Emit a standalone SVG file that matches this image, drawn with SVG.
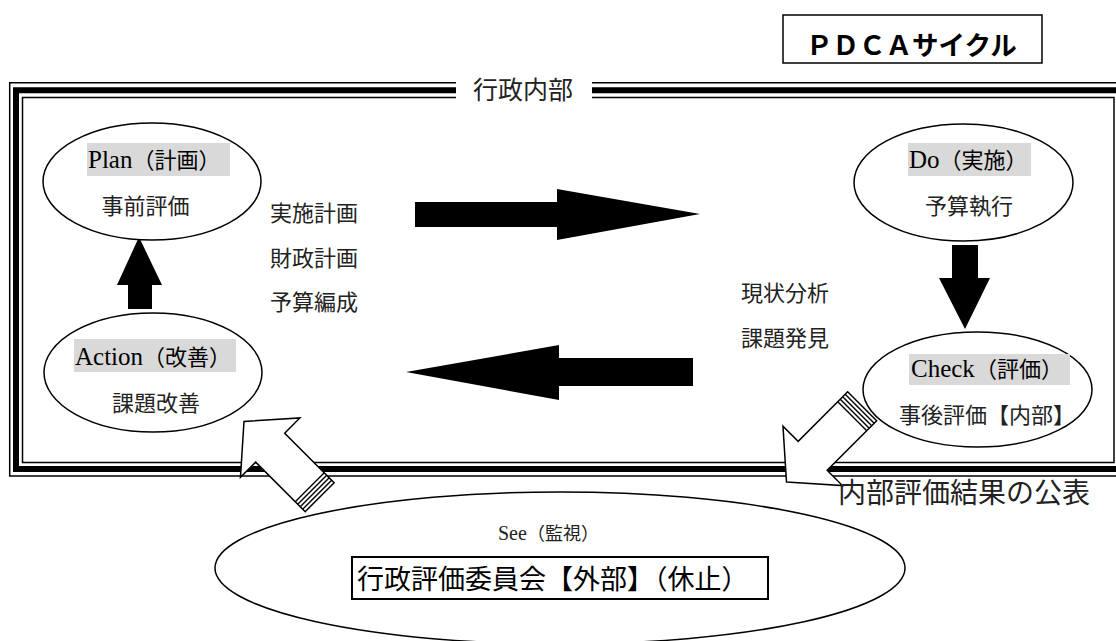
<svg xmlns="http://www.w3.org/2000/svg" width="1116" height="641" viewBox="0 0 1116 641">
<style>
.ln{fill:none;stroke:#000}
.el{fill:#fff;stroke:#000;stroke-width:1.5}
.lab{fill:#d9d9d9}
.lat{font-family:"Liberation Serif","Noto Sans CJK JP",serif;font-size:25px;fill:#000}
.cj{font-family:"Noto Sans CJK JP",sans-serif;font-size:22px;fill:#222}
.blk{fill:#000}
</style>
<defs>
<g id="hollow">
<path d="M0,0 L-37,-42 L-37,-20.5 L-107,-20.5 L-107,20.5 L-37,20.5 L-37,42 Z" fill="#fff" stroke="#000" stroke-width="1.5" stroke-linejoin="miter"/>
<path d="M-93,-20.5 V20.5 M-96.5,-20.5 V20.5 M-100,-20.5 V20.5 M-103.5,-20.5 V20.5" stroke="#000" stroke-width="1.4"/>
</g>
</defs>
<rect width="1116" height="641" fill="#fff"/>

<g id="frame">
<path class="ln" stroke-width="1.5" d="M592,82.7 H1130 V476 H9.7 V82.7 H456"/>
<path class="ln" stroke-width="6" d="M592,90.3 H1125 V469 H16 V90.3 H456"/>
<path class="ln" stroke-width="1.5" d="M592,97.5 H1114 V462.5 H22.5 V97.5 H456"/>
<text x="473" y="99" font-family="Noto Sans CJK JP,sans-serif" font-size="25" fill="#222">行政内部</text>
</g>

<g id="title">
<rect x="783" y="15" width="259" height="48" fill="#fff" stroke="#000" stroke-width="1.5"/>
<text x="806" y="55" font-family="Noto Sans CJK JP,sans-serif" font-size="26.5" font-weight="bold" fill="#000">ＰＤＣＡサイクル</text>
</g>

<g id="connectors">
<polygon class="blk" points="415,202 557,202 557,189 700,214 557,240 557,227 415,227"/>
<polygon class="blk" points="693,358 559,358 559,345 406,372 559,400 559,386 693,386"/>
<polygon class="blk" points="128,309 128,285 117,285 139,237 162,285 152,285 152,309"/>
<polygon class="blk" points="952,245 978,245 978,278 990,278 965,329 939,278 952,278"/>
</g>

<g id="plan">
<ellipse class="el" cx="152" cy="181.5" rx="109" ry="58.5"/>
<rect class="lab" x="87" y="143" width="143" height="33"/>
<text class="lat" x="88" y="168">Plan<tspan font-size="22">（計画）</tspan></text>
<text class="cj" x="145.5" y="214" text-anchor="middle">事前評価</text>
</g>

<g id="do">
<ellipse class="el" cx="963.5" cy="182.5" rx="109.5" ry="58.5"/>
<rect class="lab" x="908" y="143" width="123" height="33"/>
<text class="lat" x="909" y="168">Do<tspan font-size="22">（実施）</tspan></text>
<text class="cj" x="969" y="214" text-anchor="middle">予算執行</text>
</g>

<g id="check">
<ellipse class="el" cx="977.5" cy="389.5" rx="114.5" ry="57.5"/>
<rect class="lab" x="909" y="354" width="161" height="31"/>
<text class="lat" x="911" y="377">Check<tspan font-size="22">（評価）</tspan></text>
<text class="cj" x="899" y="423">事後評価【内部】</text>
</g>

<g id="action">
<ellipse class="el" cx="153" cy="372.5" rx="109" ry="59.5"/>
<rect class="lab" x="74" y="339" width="162" height="33"/>
<text class="lat" x="75" y="365">Action<tspan font-size="22">（改善）</tspan></text>
<text class="cj" x="156" y="411" text-anchor="middle">課題改善</text>
</g>

<g id="labels">
<text class="cj" x="270" y="221">実施計画</text>
<text class="cj" x="270" y="266">財政計画</text>
<text class="cj" x="270" y="310">予算編成</text>
<text class="cj" x="741" y="301">現状分析</text>
<text class="cj" x="741" y="346">課題発見</text>
</g>

<g id="see">
<ellipse class="el" cx="560" cy="568" rx="345" ry="76"/>
<text x="498" y="540" font-family="Liberation Serif,Noto Sans CJK JP,serif" font-size="20" fill="#222">See<tspan font-size="18">（監視）</tspan></text>
<rect x="352" y="557" width="416" height="42" fill="#fff" stroke="#000" stroke-width="2"/>
<text x="357" y="589" font-family="Noto Sans CJK JP,sans-serif" font-size="27" fill="#000">行政評価委員会【外部】（休止）</text>
</g>

<g id="arrows-hollow">
<use href="#hollow" transform="translate(244,421.5) rotate(225)"/>
<use href="#hollow" transform="translate(786.5,482) rotate(135)"/>
</g>

<g id="publish">
<text x="838" y="503" font-family="Noto Sans CJK JP,sans-serif" font-size="28" fill="#222">内部評価結果の公表</text>
</g>
</svg>
